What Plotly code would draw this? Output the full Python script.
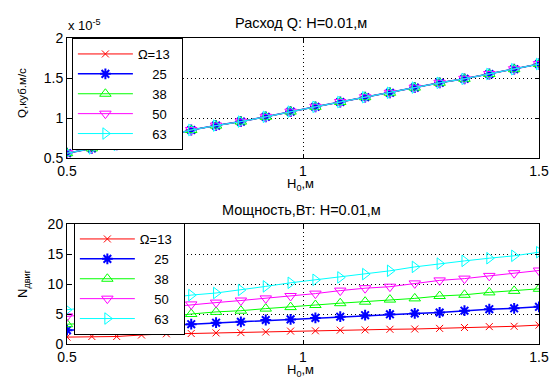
import plotly.graph_objects as go

# ---------------- data ----------------
H0 = [0.5, 0.5526, 0.6053, 0.6579, 0.7105, 0.7632, 0.8158, 0.8684, 0.9211, 0.9737,
      1.0263, 1.0789, 1.1316, 1.1842, 1.2368, 1.2895, 1.3421, 1.3947, 1.4474, 1.5]

omega_labels = ["Ω=13", "25", "38", "50", "63"]

# flow rate Q, in units of 1e-5 m^3/s (same for all Omega)
Q_e5 = [0.56, 0.62, 0.665, 0.715, 0.775, 0.85, 0.905, 0.955, 1.015, 1.08,
        1.14, 1.2, 1.26, 1.315, 1.38, 1.44, 1.49, 1.55, 1.61, 1.675]
Q_series = [Q_e5, Q_e5, Q_e5, Q_e5, Q_e5]

N_13 = [1.15, 1.25, 1.25, 1.5, 1.7, 1.75, 1.85, 1.9, 2.0, 2.15,
        2.2, 2.3, 2.35, 2.45, 2.5, 2.6, 2.75, 2.9, 2.95, 3.15]
N_25 = [2.3, 2.45, 2.6, 2.75, 3.1, 3.3, 3.55, 3.7, 4.0, 4.1,
        4.35, 4.55, 4.8, 4.95, 5.1, 5.25, 5.55, 5.8, 5.95, 6.2]
N_38 = [3.3, 3.45, 3.6, 4.0, 4.5, 5.0, 5.35, 5.55, 5.9, 6.15,
        6.5, 6.8, 7.05, 7.4, 7.6, 8.0, 8.2, 8.6, 8.85, 9.2]
N_50 = [4.6, 5.0, 5.4, 5.8, 6.2, 6.6, 6.9, 7.25, 7.6, 8.0,
        8.4, 8.9, 9.3, 9.55, 10.1, 10.6, 10.9, 11.35, 11.8, 12.25]
N_63 = [5.7, 6.2, 6.7, 7.2, 7.7, 8.15, 8.5, 9.0, 9.6, 10.2,
        10.7, 11.1, 11.65, 12.2, 12.85, 13.4, 13.85, 14.3, 14.7, 15.3]
N_series = [N_13, N_25, N_38, N_50, N_63]

x_ticks = [0.5, 1, 1.5]
q_ticks = [0.5, 1, 1.5, 2]
n_ticks = [0, 5, 10, 15, 20]

# ---------------- styles ----------------
colors = ["#ff0000", "#0000ff", "#00ff00", "#ff00ff", "#00ffff"]
symbols = ["x-thin-open", "asterisk-open", "triangle-up-open", "triangle-down-open", "triangle-right-open"]
msizes = [7, 9, 10, 10, 10]
mlw = [1, 2, 1, 1, 1]
linew = [1, 1.5, 1, 1, 1]

FONT = "Liberation Sans, Arial, sans-serif"

W, H = 559, 378
L, R = 67, 549
T, B = 38, 344


def xp(px):
    return (px - L) / (R - L)


def yp(py):
    return (B - py) / (B - T)


fig = go.Figure()


def legend_name(i):
    # right-align the numbers under "Ω=13" using figure spaces
    base = omega_labels[i] if i == 0 else omega_labels[i].rjust(4, "\u2007")
    return base + "\u2007"


for i in range(5):
    fig.add_trace(go.Scatter(
        x=H0, y=Q_series[i], name=legend_name(i),
        mode="lines+markers", xaxis="x", yaxis="y", legend="legend",
        line=dict(color=colors[i], width=linew[i]),
        marker=dict(symbol=symbols[i], size=msizes[i], color=colors[i],
                    line=dict(color=colors[i], width=mlw[i]))))

for i in range(5):
    fig.add_trace(go.Scatter(
        x=H0, y=N_series[i], name=legend_name(i),
        mode="lines+markers", xaxis="x2", yaxis="y2", legend="legend2",
        line=dict(color=colors[i], width=linew[i]),
        marker=dict(symbol=symbols[i], size=msizes[i], color=colors[i],
                    line=dict(color=colors[i], width=mlw[i]))))

top_dom = [yp(158), 1.0]
bot_dom = [0.0, yp(224)]

axis_common = dict(
    showline=True, linecolor="black", linewidth=1, mirror="ticks",
    ticks="inside", ticklen=4, tickcolor="black",
    showgrid=True, gridcolor="black", griddash="1px,3px", gridwidth=1,
    zeroline=False,
    tickfont=dict(family=FONT, size=14, color="black"),
)

leg_common = dict(xanchor="left", yanchor="top",
                  bgcolor="white", bordercolor="black", borderwidth=1,
                  font=dict(family=FONT, size=13, color="black"),
                  tracegroupgap=0, itemwidth=55)

fig.update_layout(
    width=W, height=H,
    margin=dict(l=L, r=W - R, t=T, b=H - B, pad=0),
    paper_bgcolor="white", plot_bgcolor="white",
    font=dict(family=FONT, size=13, color="black"),
    xaxis=dict(domain=[0, 1], anchor="y", range=[0.5, 1.5], tickvals=x_ticks,
               ticktext=["0.5", "1", "1.5"], **axis_common),
    yaxis=dict(domain=top_dom, anchor="x", range=[0.5, 2], tickvals=q_ticks,
               ticktext=["0.5", "1", "1.5", "2"], **axis_common),
    xaxis2=dict(domain=[0, 1], anchor="y2", range=[0.5, 1.5], tickvals=x_ticks,
                ticktext=["0.5", "1", "1.5"], **axis_common),
    yaxis2=dict(domain=bot_dom, anchor="x2", range=[0, 20], tickvals=n_ticks,
                ticktext=["0", "5", "10", "15", "20"], **axis_common),
    legend=dict(x=xp(72), y=yp(38), **leg_common),
    legend2=dict(x=xp(74), y=yp(223), **leg_common),
)

annotations = [
    dict(text="Расход Q: H=0.01,м", x=xp(306), y=yp(23), size=14.5),
    dict(text="x 10<sup>-5</sup>", x=xp(66), y=yp(25), xanchor="left", size=13),
    dict(text="H<sub>0</sub>,м", x=xp(305), y=yp(184), size=13),
    dict(text="Q,куб.м/с", x=xp(21), y=yp(93), textangle=-90, size=11.5),
    dict(text="Мощность,Вт: H=0.01,м", x=xp(306), y=yp(210), size=14.5),
    dict(text="N<sub>двиг</sub>", x=xp(22), y=yp(283), textangle=-90, size=13),
    dict(text="H<sub>0</sub>,м", x=xp(305), y=yp(370), size=13),
]
for a in annotations:
    a.setdefault("xanchor", "center")
    size = a.pop("size")
    fig.add_annotation(xref="paper", yref="paper", yanchor="middle",
                       showarrow=False,
                       font=dict(family=FONT, size=size, color="black"), **a)

fig.write_html(
    "out.html",
    config={"displayModeBar": False},
    post_script="document.body.style.margin='0';document.body.style.overflow='hidden';",
)
